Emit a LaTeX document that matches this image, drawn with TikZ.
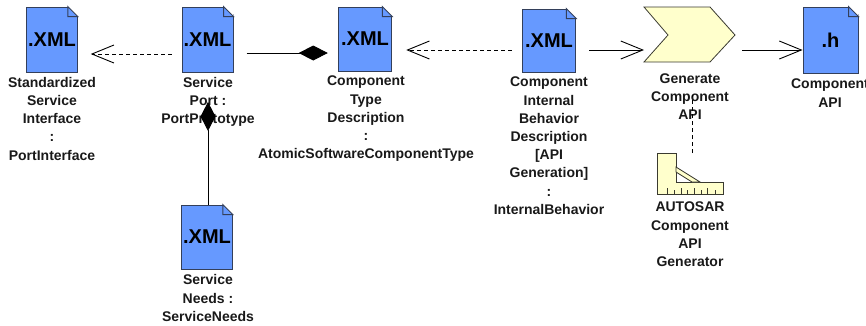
\documentclass[tikz,border=0pt]{standalone}
\usepackage{fontspec}
\setmainfont{Liberation Sans}
\usetikzlibrary{arrows.meta}
\definecolor{docblue}{HTML}{6699FF}
\definecolor{docline}{HTML}{333F5A}
\definecolor{toolyellow}{HTML}{FFFFCC}
\definecolor{toolline}{HTML}{3A3A30}
\tikzset{
  docfile/.style={draw=docline, fill=docblue, line width=1pt, inner sep=0pt,
    font=\fontsize{20}{24}\selectfont\bfseries},
  doclabel/.style={anchor=north, align=center, inner sep=0pt, text=black!90,
    font=\fontsize{14}{18.2}\selectfont\bfseries},
  depend/.style={densely dashed, dash pattern=on 4pt off 3pt, line width=1pt,
    -{Straight Barb[length=22pt,width=18pt,line width=0.9pt]}},
  flow/.style={line width=0.9pt, -{Straight Barb[length=22pt,width=18pt,line width=0.9pt]}},
  aggregate/.style={line width=0.9pt, -{Diamond[length=29pt,width=15pt]}}
}
\begin{document}
\begin{tikzpicture}[x=1pt,y=-1pt]
  \useasboundingbox (0,0) rectangle (866,325);

  % Labels
  \node [doclabel] (stdiflabel) at (52,77) {Standardized\\Service\\Interface\\:\\PortInterface};
  \node [doclabel] (portlabel) at (208,77) {Service\\Port :\\PortPrototype};
  \node [doclabel] (typelabel) at (366,76) {Component\\Type\\Description\\:\\AtomicSoftwareComponentType};
  \node [doclabel] (intlabel) at (549,77) {Component\\Internal\\Behavior\\Description\\{[API}\\Generation]\\:\\InternalBehavior};
  \node [doclabel] (needslabel) at (208,274.5) {Service\\Needs :\\ServiceNeeds};
  \node [doclabel] (genlabel) at (690,73.5) {Generate\\Component\\API};
  \node [doclabel] (toollabel) at (690,202) {AUTOSAR\\Component\\API\\Generator};
  \node [doclabel] (apilabel) at (830,79) {Component\\API};

  % Documents
  \node [docfile, minimum width=50.5pt, minimum height=65pt] (stdif) at (52,39.5) {.XML};
  \node [docfile, minimum width=51pt, minimum height=65pt] (port) at (207.5,39.5) {.XML};
  \node [docfile, minimum width=53.5pt, minimum height=64pt] (type) at (365,39) {.XML};
  \node [docfile, minimum width=53.5pt, minimum height=63pt] (int) at (549,40.5) {.XML};
  \node [docfile, minimum width=50.5pt, minimum height=64pt] (needs) at (207,237) {.XML};
  \node [docfile, minimum width=55pt, minimum height=66pt] (api) at (830.5,40) {.h};
  \foreach \doc in {stdif,port,type,int,needs,api} {
    \fill [white] ([xshift=-10pt]\doc.north east) -- ([xshift=1pt,yshift=1pt]\doc.north east) --
      ([yshift=-10pt]\doc.north east) -- cycle;
    \draw [docline, line width=1pt] ([xshift=-10pt]\doc.north east) -- ([yshift=-10pt]\doc.north east) --
      ([xshift=-10pt,yshift=-10pt]\doc.north east) -- cycle;
  }

  % Generate step
  \draw [toolline, line width=0.8pt, fill=toolyellow] (644,7) -- (710,7) -- (735,35) -- (710,62) --
    (644,62) -- (668,35) -- cycle;
  \coordinate (genin) at (644,50);
  \coordinate (genout) at (742,50);
  \coordinate (genbelow) at (692,95);

  % Tool
  \draw [toolline, line width=0.8pt, fill=toolyellow] (657,153) -- (676,153) -- (676,182) -- (723,182) --
    (723,194) -- (657,194) -- cycle;
  \draw [toolline, line width=0.8pt, fill=toolyellow] (676,167) -- (700,182) -- (692,182) -- (676,172) -- cycle;
  \foreach \tx/\tl in {667/6,674/4,681/6,687/4,694/6,701/4,707/6,715/4} {
    \draw [toolline, line width=0.6pt] (\tx,194) -- (\tx,194-\tl);
  }
  \coordinate (tooltop) at (692,153);

  % Connectors
  \draw [depend, shorten <=10pt, shorten >=13pt] ([yshift=-14.5pt]port.west) -- ([yshift=-14.5pt]stdif.east);
  \draw [aggregate, shorten <=13pt] ([yshift=-13.5pt]port.east) -- ([yshift=-14pt,xshift=-10pt]type.west);
  \draw [aggregate] ([xshift=1pt]needs.north) -- ([xshift=0.5pt]port.south |- portlabel.center);
  \draw [depend, shorten <=10pt, shorten >=14pt] ([yshift=-9.5pt]int.west) -- ([yshift=-11pt]type.east);
  \draw [flow, shorten <=13pt] ([yshift=-9.5pt]int.east) -- (genin);
  \draw [flow] (genout) -- ([yshift=-10pt]api.west);
  \draw [densely dashed, dash pattern=on 4pt off 3pt, line width=1pt] (tooltop) -- (genbelow);
\end{tikzpicture}
\end{document}
